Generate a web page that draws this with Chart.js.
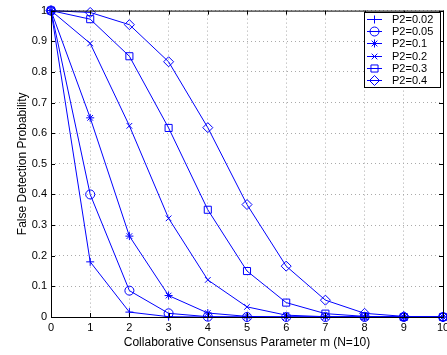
<!DOCTYPE html>
<html>
<head>
<meta charset="utf-8">
<script src="https://cdn.jsdelivr.net/npm/chart.js@4"></script>
<style>
  html, body { margin: 0; padding: 0; overflow: hidden; background: #fff; }
  #wrap { width: 460px; height: 355px; }
</style>
</head>
<body>
<div id="wrap"><canvas id="chart"></canvas></div>
<script>
const mValues = ["0", "1", "2", "3", "4", "5", "6", "7", "8", "9", "10"];
const yTicks = [0, 0.1, 0.2, 0.3, 0.4, 0.5, 0.6, 0.7, 0.8, 0.9, 1];
const seriesLabels = ["P2=0.02", "P2=0.05", "P2=0.1", "P2=0.2", "P2=0.3", "P2=0.4"];
const markers = ["cross", "circle", "star", "crossRot", "rect", "rectRot"];

const p002 = [1, 0.18, 0.016, 0.001, 0, 0, 0, 0, 0, 0, 0];
const p005 = [1, 0.40, 0.086, 0.012, 0.001, 0, 0, 0, 0, 0, 0];
const p01 = [1, 0.65, 0.264, 0.070, 0.013, 0.002, 0, 0, 0, 0, 0];
const p02 = [1, 0.893, 0.624, 0.322, 0.121, 0.033, 0.006, 0.001, 0, 0, 0];
const p03 = [1, 0.972, 0.851, 0.617, 0.350, 0.150, 0.047, 0.011, 0.002, 0, 0];
const p04 = [1, 0.994, 0.954, 0.833, 0.618, 0.367, 0.166, 0.055, 0.012, 0.002, 0];

const allSeries = [p002, p005, p01, p02, p03, p04];
const blue = "#0000ff";
const markerSize = [4, 4.5, 4, 4, 5, 5];

const font = { family: "'Liberation Sans', Arial, sans-serif", size: 11 };

// box, inner tick marks and legend, matlab style
const boxPlugin = {
  id: "box",
  afterDraw(chart) {
    const ctx = chart.ctx;
    const a = chart.chartArea;
    const xs = chart.scales.x, ys = chart.scales.y;
    ctx.save();
    ctx.strokeStyle = "#000";
    ctx.lineWidth = 1;
    ctx.strokeRect(a.left + 0.5, a.top + 0.5, a.right - a.left, a.bottom - a.top);
    ctx.beginPath();
    mValues.forEach((m, i) => {
      const px = Math.round(xs.getPixelForValue(i)) + 0.5;
      ctx.moveTo(px, a.bottom); ctx.lineTo(px, a.bottom - 4);
      ctx.moveTo(px, a.top); ctx.lineTo(px, a.top + 4);
    });
    yTicks.forEach(v => {
      const py = Math.round(ys.getPixelForValue(v)) + 0.5;
      ctx.moveTo(a.left, py); ctx.lineTo(a.left + 4, py);
      ctx.moveTo(a.right, py); ctx.lineTo(a.right - 4, py);
    });
    ctx.stroke();

    // legend
    const lx = 364, ly = 12, lw = 76, lh = 75;
    ctx.fillStyle = "#fff";
    ctx.fillRect(lx, ly, lw, lh);
    ctx.strokeStyle = "#000";
    ctx.strokeRect(lx + 0.5, ly + 0.5, lw, lh);
    ctx.font = "11px 'Liberation Sans', Arial, sans-serif";
    ctx.textBaseline = "middle";
    ctx.textAlign = "left";
    chart.data.datasets.forEach((ds, i) => {
      const y = Math.round(ly + 7 + i * 12.2) + 0.5;
      ctx.strokeStyle = blue;
      ctx.lineWidth = 1;
      ctx.beginPath();
      ctx.moveTo(lx + 3, y); ctx.lineTo(lx + 18, y);
      ctx.stroke();
      ctx.fillStyle = "rgba(0,0,0,0)";
      Chart.helpers.drawPoint(ctx, { pointStyle: ds.pointStyle, radius: ds.pointRadius, borderWidth: 1, rotation: 0 }, lx + 10.5, y);
      ctx.fillStyle = "#000";
      ctx.fillText(ds.label, lx + 28, y);
    });
    ctx.restore();
  }
};

const datasets = allSeries.map((s, i) => ({
  label: seriesLabels[i],
  data: s,
  borderColor: blue,
  borderWidth: 1,
  backgroundColor: "rgba(0,0,0,0)",
  pointStyle: markers[i],
  pointRadius: markerSize[i],
  pointHoverRadius: markerSize[i],
  pointBorderColor: blue,
  pointBackgroundColor: "rgba(0,0,0,0)",
  pointBorderWidth: 1,
  tension: 0,
  clip: false
}));

new Chart(document.getElementById("chart"), {
  type: "line",
  data: { labels: mValues, datasets: datasets },
  options: {
    responsive: true,
    maintainAspectRatio: false,
    animation: false,
    events: [],
    layout: { padding: { top: 8, right: 17, bottom: 0, left: 0 }, autoPadding: false },
    plugins: { legend: { display: false }, tooltip: { enabled: false } },
    scales: {
      x: {
        offset: false,
        grid: { color: "#aaa", lineWidth: 1, drawTicks: false },
        border: { display: false, dash: [1, 3] },
        ticks: { color: "#000", font: font, padding: 4, maxRotation: 0, autoSkip: false },
        title: { display: true, text: "Collaborative Consensus Parameter m (N=10)", color: "#000", font: { family: font.family, size: 12 }, padding: { top: 0, bottom: 5 } },
        afterFit(scale) { scale.height = 38; }
      },
      y: {
        min: 0, max: 1,
        afterBuildTicks(scale) { scale.ticks = yTicks.map(v => ({ value: v })); },
        grid: { color: "#aaa", lineWidth: 1, drawTicks: false },
        border: { display: false, dash: [1, 3] },
        ticks: { color: "#000", font: font, padding: 4, callback: v => String(Math.round(v * 10) / 10) },
        title: { display: true, text: "False Detection Probability", color: "#000", font: { family: font.family, size: 12 }, padding: { top: 15, bottom: 0 } },
        afterFit(scale) { scale.width = 51; }
      }
    }
  },
  plugins: [boxPlugin]
});
</script>
</body>
</html>
